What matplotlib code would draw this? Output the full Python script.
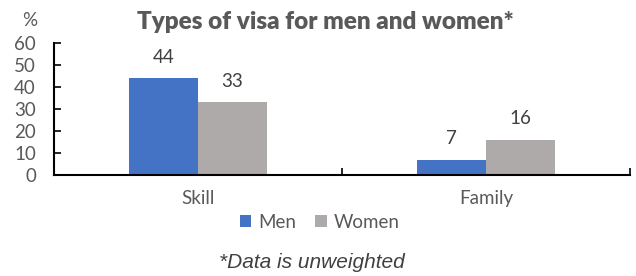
#!/usr/bin/env python3

import numpy as np
import matplotlib.pyplot as plt

# data
categories = ["Skill", "Family"]
men = [44, 7]
women = [33, 16]
series_names = ["Men", "Women"]
y_ticks = [0, 10, 20, 30, 40, 50, 60]

MEN_COLOR = "#4472C4"
WOMEN_COLOR = "#AEAAAA"
TEXT_COLOR = "#595959"
FS = 13.5


def main():
    plt.rcParams["font.family"] = ["Lato", "DejaVu Sans"]

    fig = plt.figure(figsize=(6.36, 2.76), dpi=100)
    ax = fig.add_axes([54 / 636, 1 - 175 / 276, 576 / 636, 132 / 276])

    x = np.arange(len(categories))
    w = 0.238
    b1 = ax.bar(x - w / 2, men, w, color=MEN_COLOR, label=series_names[0])
    b2 = ax.bar(x + w / 2, women, w, color=WOMEN_COLOR, label=series_names[1])

    # value labels above bars
    for bars in (b1, b2):
        for rect in bars:
            ax.annotate(f"{rect.get_height():g}",
                        (rect.get_x() + rect.get_width() / 2, rect.get_height()),
                        xytext=(0, 9), textcoords="offset points",
                        ha="center", va="bottom", fontsize=FS, color="#404040")

    ax.set_xlim(-0.5, len(categories) - 0.5)
    ax.set_ylim(0, 60)
    ax.set_yticks(y_ticks)
    ax.set_xticks(x)
    ax.set_xticklabels(categories)
    # category boundary ticks
    ax.set_xticks(np.arange(len(categories) + 1) - 0.5, minor=True)

    for side in ("top", "right"):
        ax.spines[side].set_visible(False)
    for side in ("left", "bottom"):
        ax.spines[side].set_linewidth(1.5)
        ax.spines[side].set_color("black")

    ax.tick_params(axis="y", direction="in", length=5, width=1.2,
                   labelsize=FS, labelcolor=TEXT_COLOR, pad=13)
    ax.tick_params(axis="x", which="major", length=0, labelsize=FS,
                   labelcolor=TEXT_COLOR, pad=11)
    ax.tick_params(axis="x", which="minor", direction="in", length=5, width=1.2)

    fig.text(30 / 636, 1 - 20 / 276, "%", ha="center", va="center",
             fontsize=FS, color=TEXT_COLOR)
    fig.text(325 / 636, 1 - 22 / 276, "Types of visa for men and women*",
             ha="center", va="center", fontsize=17.5, fontweight="heavy",
             color=TEXT_COLOR)

    fig.legend(loc="center", bbox_to_anchor=(320 / 636, 1 - 222 / 276),
               ncol=2, frameon=False, handlelength=0.6, handleheight=0.6,
               handletextpad=0.4, columnspacing=1.0, fontsize=FS,
               labelcolor=TEXT_COLOR, borderpad=0)

    fig.text(312 / 636, 1 - 263 / 276, "*Data is unweighted", ha="center",
             va="center", fontsize=15, style="italic", color="#404040",
             family=["Liberation Sans", "DejaVu Sans"])

    fig.savefig("out.png", dpi=100)


if __name__ == "__main__":
    main()
